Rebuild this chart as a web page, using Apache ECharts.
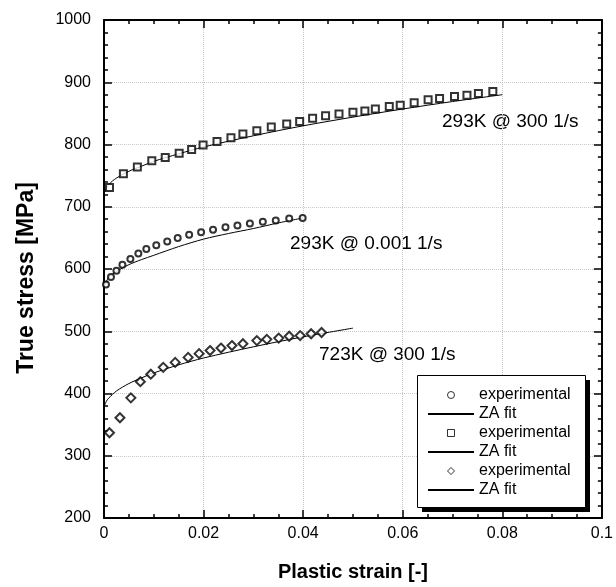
<!DOCTYPE html>
<html>
<head>
<meta charset="utf-8">
<script src="https://cdn.jsdelivr.net/npm/echarts@6/dist/echarts.min.js"></script>
<style>
  html, body { margin: 0; padding: 0; background: #fff; }
  #chart { width: 616px; height: 587px; }
</style>
</head>
<body>
<div id="chart"></div>
<script>
// 293K @ 0.001 1/s
const circleX = [0.0004, 0.0014, 0.0025, 0.0037, 0.0053, 0.0069, 0.0085, 0.0105, 0.0127, 0.0148, 0.0171, 0.0195, 0.0219, 0.0244, 0.0268, 0.0293, 0.0319, 0.0345, 0.0372, 0.0399]
const circleY = [575, 587, 597, 607, 616, 625, 632, 638, 644, 650, 655, 659, 663, 667, 670, 673, 676, 678, 681, 682]
const circleFitX = [0, 0.001, 0.0025, 0.005, 0.0075, 0.01, 0.015, 0.02, 0.025, 0.03, 0.035, 0.04]
const circleFitY = [572, 587, 596, 607, 615, 622, 636, 648, 657, 665, 674, 682]

// 293K @ 300 1/s
const squareX = [0.0011, 0.0039, 0.0067, 0.0096, 0.0123, 0.0151, 0.0176, 0.0199, 0.0227, 0.0255, 0.0279, 0.0307, 0.0336, 0.0367, 0.0393, 0.0419, 0.0445, 0.0472, 0.05, 0.0524, 0.0545, 0.0573, 0.0595, 0.0623, 0.0651, 0.0674, 0.0704, 0.0729, 0.0752, 0.0781]
const squareY = [731, 753, 764, 774, 779, 786, 792, 799, 805, 811, 817, 822, 828, 833, 837, 842, 846, 849, 852, 854, 857, 861, 863, 867, 872, 874, 877, 879, 882, 885]
const squareFitX = [0, 0.001, 0.0025, 0.005, 0.0075, 0.01, 0.015, 0.02, 0.03, 0.04, 0.05, 0.06, 0.07, 0.08]
const squareFitY = [722, 736, 746, 757, 765, 773, 785, 796, 814, 830, 844, 857, 869, 880]

// 723K @ 300 1/s
const diamondX = [0.0011, 0.0032, 0.0054, 0.0073, 0.0094, 0.0119, 0.0143, 0.0169, 0.0191, 0.0213, 0.0235, 0.0257, 0.0279, 0.0307, 0.0327, 0.0351, 0.0372, 0.0394, 0.0416, 0.0437]
const diamondY = [337, 361, 393, 419, 431, 442, 450, 458, 464, 469, 473, 477, 480, 485, 487, 489, 492, 493, 496, 498]
const diamondFitX = [0, 0.0005, 0.001, 0.0025, 0.005, 0.0075, 0.01, 0.015, 0.02, 0.03, 0.04, 0.05]
const diamondFitY = [378, 388, 393, 404, 416, 425, 433, 446, 457, 475, 491, 505]

const curveLabels = ['293K @ 300 1/s', '293K @ 0.001 1/s', '723K @ 300 1/s']

const FONT = '"Liberation Sans", Arial, Helvetica, sans-serif'

function pairs(xs, ys) {
    return xs.map((x, i) => [x, ys[i]])
}

function expSeries(name, symbol, size, xs, ys) {
    return {
        name: name,
        type: 'scatter',
        symbol: symbol,
        symbolSize: size,
        itemStyle: { color: '#000', borderWidth: 1 },
        data: pairs(xs, ys),
        z: 3
    }
}

function fitSeries(name, xs, ys) {
    return {
        name: name,
        type: 'line',
        symbol: 'none',
        smooth: 0.3,
        lineStyle: { color: '#000', width: 1 },
        itemStyle: { color: '#000' },
        data: pairs(xs, ys),
        z: 2
    }
}

function axisBase(pos, showLabel) {
    return {
        axisLine: { show: true, onZero: false, lineStyle: { color: '#000', width: 2 } },
        axisTick: { show: true, inside: true, length: 8, lineStyle: { color: '#000', width: 1.5 } },
        axisLabel: { show: showLabel, color: '#000', fontSize: 16, fontFamily: FONT },
        position: pos
    }
}

// legend entries: hollow symbol for the measured points, plain line for the fits
// (path icons keep their aspect, builtin rect/diamond would be stretched)
function legendExp(name, icon) {
    return { name: name, icon: icon, itemStyle: { color: '#fff', borderColor: '#000', borderWidth: 1 } }
}
function legendFit(name) {
    return { name: name, itemStyle: { opacity: 0 } }
}

let myChart = echarts.init(document.getElementById('chart'))
let option = {
    backgroundColor: '#fff',
    animation: false,
    grid: { left: 104, right: 12, top: 20, bottom: 64 },
    xAxis: [
        Object.assign(axisBase('bottom', true), {
            type: 'value', min: 0, max: 0.1, interval: 0.02,
            minorTick: { show: true, splitNumber: 4, length: 4, lineStyle: { color: '#000', width: 1.5 } },
            axisLabel: { show: true, color: '#000', fontSize: 16, fontFamily: FONT, margin: 8 },
            splitLine: { show: true, lineStyle: { color: '#c8c8c8', type: 'dotted', width: 1 } },
            name: 'Plastic strain [-]', nameLocation: 'middle', nameGap: 44,
            nameTextStyle: { color: '#000', fontSize: 20, fontWeight: 'bold', fontFamily: FONT }
        }),
        Object.assign(axisBase('top', false), {
            type: 'value', min: 0, max: 0.1, interval: 0.02,
            minorTick: { show: true, splitNumber: 4, length: 4, lineStyle: { color: '#000', width: 1.5 } },
            splitLine: { show: false }
        })
    ],
    yAxis: [
        Object.assign(axisBase('left', true), {
            type: 'value', min: 200, max: 1000, interval: 100,
            minorTick: { show: true, splitNumber: 5, length: 4, lineStyle: { color: '#000', width: 1.5 } },
            axisLabel: { show: true, color: '#000', fontSize: 16, fontFamily: FONT, margin: 13, formatter: v => String(v) },
            splitLine: { show: true, lineStyle: { color: '#c8c8c8', type: 'dotted', width: 1 } },
            name: 'True stress [MPa]', nameLocation: 'middle', nameGap: 66,
            nameTextStyle: { color: '#000', fontSize: 23, fontWeight: 'bold', fontFamily: FONT, padding: [0, 18, 0, 0] }
        }),
        Object.assign(axisBase('right', false), {
            type: 'value', min: 200, max: 1000, interval: 100,
            minorTick: { show: true, splitNumber: 5, length: 4, lineStyle: { color: '#000', width: 1.5 } },
            splitLine: { show: false }
        })
    ],
    legend: {
        orient: 'vertical',
        left: 417,
        top: 377,
        padding: [10, 10, 10, 10],
        itemWidth: 46,
        itemHeight: 7,
        itemGap: 3,
        symbolKeepAspect: true,
        backgroundColor: 'transparent',
        borderWidth: 0,
        selectedMode: false,
        z: 10,
        textStyle: { color: '#000', fontSize: 16, lineHeight: 16, fontFamily: FONT },
        formatter: name => name.trim(),
        data: [
            legendExp('experimental', 'circle'), legendFit('ZA fit'),
            legendExp('experimental ', 'path://M0,0L10,0L10,10L0,10Z'), legendFit('ZA fit '),
            legendExp('experimental  ', 'path://M5,0L10,5L5,10L0,5Z'), legendFit('ZA fit  ')
        ]
    },
    graphic: [
        // legend frame with its drop shadow
        { type: 'rect', z: 5, shape: { x: 422, y: 380, width: 168, height: 132 }, style: { fill: '#000' } },
        { type: 'rect', z: 6, shape: { x: 417.5, y: 375.5, width: 168, height: 132 }, style: { fill: '#fff', stroke: '#000', lineWidth: 1 } },
        { type: 'text', left: 442, top: 112, style: { text: curveLabels[0], fill: '#000', font: '19px ' + FONT } },
        { type: 'text', left: 290, top: 234, style: { text: curveLabels[1], fill: '#000', font: '19px ' + FONT } },
        { type: 'text', left: 319, top: 345, style: { text: curveLabels[2], fill: '#000', font: '19px ' + FONT } }
    ],
    series: [
        expSeries('experimental', 'emptyCircle', 6, circleX, circleY),
        fitSeries('ZA fit', circleFitX, circleFitY),
        expSeries('experimental ', 'emptyRect', 7, squareX, squareY),
        fitSeries('ZA fit ', squareFitX, squareFitY),
        expSeries('experimental  ', 'emptyDiamond', 9, diamondX, diamondY),
        fitSeries('ZA fit  ', diamondFitX, diamondFitY)
    ]
};
myChart.setOption(option);
</script>
</body>
</html>
